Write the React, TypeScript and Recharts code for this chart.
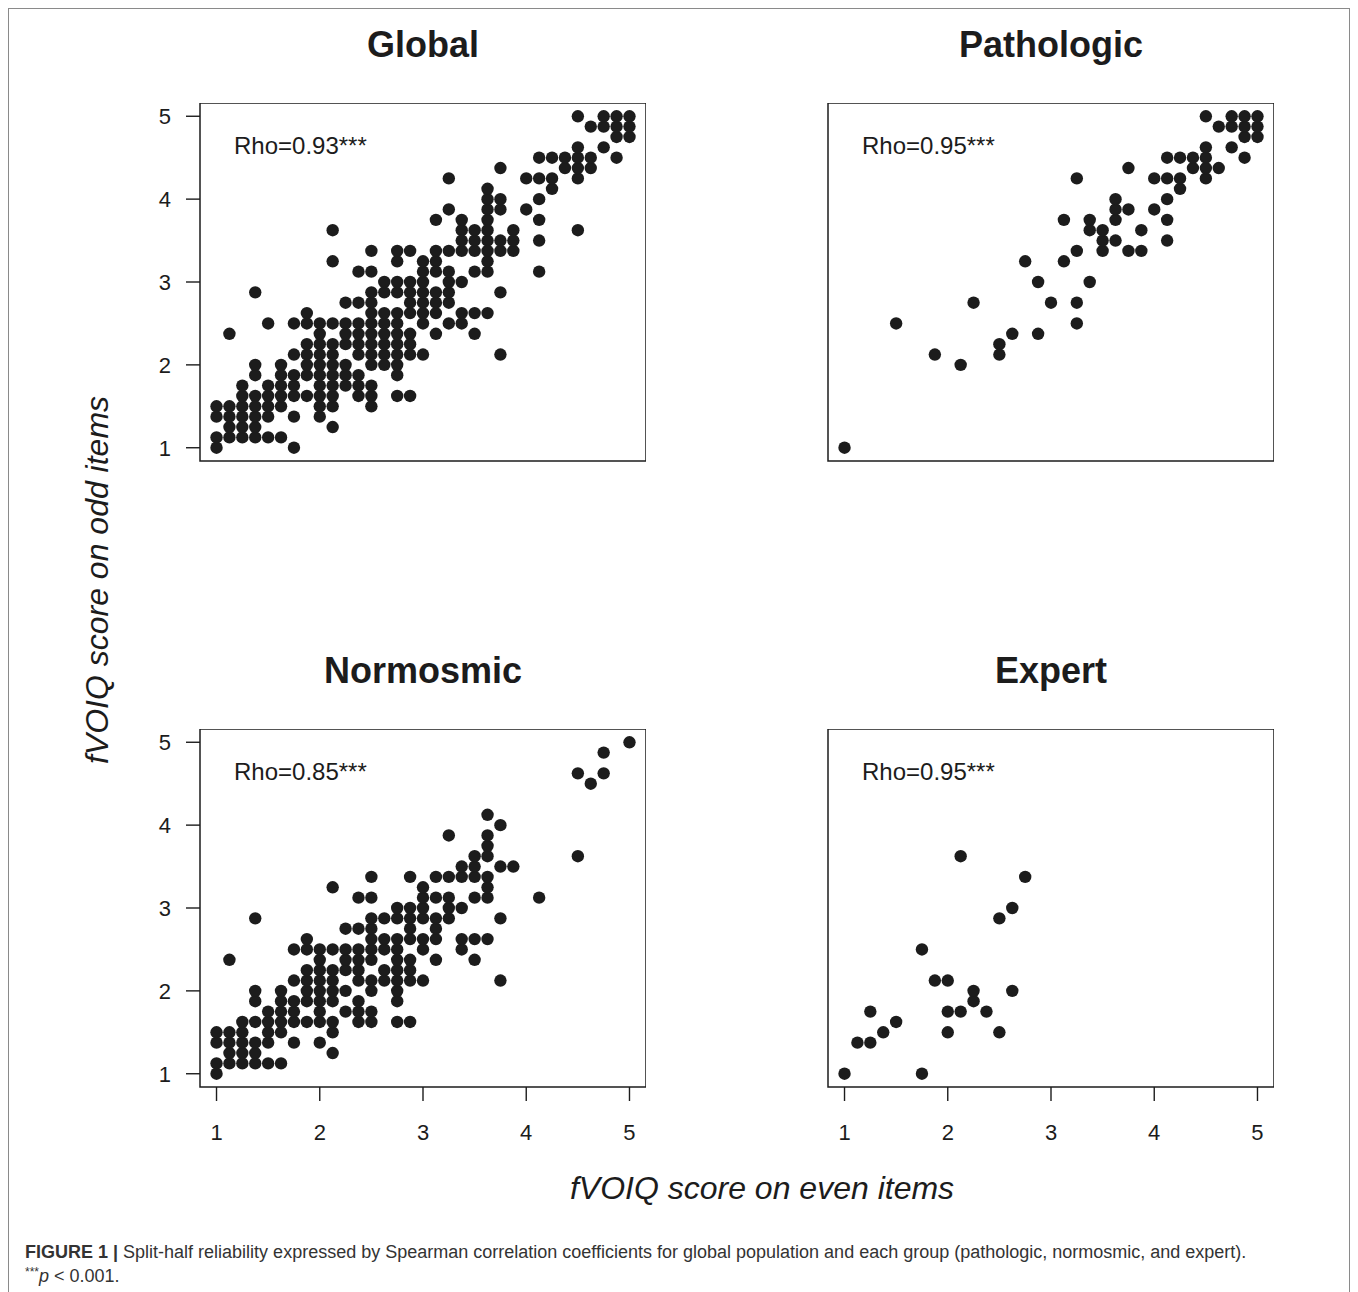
import React from 'react';
import { ScatterChart, Scatter, XAxis, YAxis, ReferenceArea } from 'recharts';

// ---------- data (x value -> list of y values), scores on a 1..5 scale in 1/8 steps ----------
type Col = [number, number[]];

const normosmicCols: Col[] = [
  [1, [1, 1.125, 1.375, 1.5]],
  [1.125, [1.125, 1.25, 1.375, 1.5, 2.375]],
  [1.25, [1.125, 1.25, 1.375, 1.5, 1.625]],
  [1.375, [1.125, 1.25, 1.375, 1.625, 1.875, 2, 2.875]],
  [1.5, [1.125, 1.375, 1.5, 1.625, 1.75]],
  [1.625, [1.125, 1.5, 1.625, 1.75, 1.875, 2]],
  [1.75, [1.375, 1.625, 1.75, 1.875, 2.125, 2.5]],
  [1.875, [1.625, 1.875, 2, 2.125, 2.25, 2.5, 2.625]],
  [2, [1.375, 1.625, 1.75, 1.875, 2, 2.125, 2.25, 2.375, 2.5]],
  [2.125, [1.25, 1.5, 1.625, 1.875, 2, 2.125, 2.25, 2.5, 3.25]],
  [2.25, [1.75, 2, 2.25, 2.375, 2.5, 2.75]],
  [2.375, [1.625, 1.75, 1.875, 2.125, 2.25, 2.375, 2.5, 2.75, 3.125]],
  [2.5, [1.625, 1.75, 2, 2.125, 2.375, 2.5, 2.625, 2.75, 2.875, 3.125, 3.375]],
  [2.625, [2.125, 2.25, 2.5, 2.625, 2.875]],
  [2.75, [1.625, 1.875, 2, 2.125, 2.25, 2.375, 2.5, 2.625, 2.875, 3]],
  [2.875, [1.625, 2.125, 2.25, 2.375, 2.625, 2.75, 2.875, 3, 3.375]],
  [3, [2.125, 2.5, 2.625, 2.875, 3, 3.125, 3.25]],
  [3.125, [2.375, 2.625, 2.75, 2.875, 3.125, 3.375]],
  [3.25, [2.875, 3, 3.125, 3.375, 3.875]],
  [3.375, [2.5, 2.625, 3, 3.375, 3.5]],
  [3.5, [2.375, 2.625, 3.125, 3.375, 3.5, 3.625]],
  [3.625, [2.625, 3.125, 3.25, 3.375, 3.625, 3.75, 3.875, 4.125]],
  [3.75, [2.125, 2.875, 3.5, 4]],
  [3.875, [3.5]],
  [4.125, [3.125]],
  [4.5, [3.625, 4.625]],
  [4.625, [4.5]],
  [4.75, [4.625, 4.875]],
  [5, [5]],
];

const pathologicCols: Col[] = [
  [1, [1]],
  [1.5, [2.5]],
  [1.875, [2.125]],
  [2.125, [2]],
  [2.25, [2.75]],
  [2.5, [2.125, 2.25]],
  [2.625, [2.375]],
  [2.75, [3.25]],
  [2.875, [2.375, 3]],
  [3, [2.75]],
  [3.125, [3.25, 3.75]],
  [3.25, [2.5, 2.75, 3.375, 4.25]],
  [3.375, [3, 3.625, 3.75]],
  [3.5, [3.375, 3.5, 3.625]],
  [3.625, [3.5, 3.75, 3.875, 4]],
  [3.75, [3.375, 3.875, 4.375]],
  [3.875, [3.375, 3.625]],
  [4, [3.875, 4.25]],
  [4.125, [3.5, 3.75, 4, 4.25, 4.5]],
  [4.25, [4.125, 4.25, 4.5]],
  [4.375, [4.375, 4.5]],
  [4.5, [4.25, 4.375, 4.5, 4.625, 5]],
  [4.625, [4.375, 4.875]],
  [4.75, [4.625, 4.875, 5]],
  [4.875, [4.5, 4.75, 4.875, 5]],
  [5, [4.75, 4.875, 5]],
];

const expertCols: Col[] = [
  [1, [1]],
  [1.125, [1.375]],
  [1.25, [1.375, 1.75]],
  [1.375, [1.5]],
  [1.5, [1.625]],
  [1.75, [1, 2.5]],
  [1.875, [2.125]],
  [2, [1.5, 1.75, 2.125]],
  [2.125, [1.75, 3.625]],
  [2.25, [1.875, 2]],
  [2.375, [1.75]],
  [2.5, [1.5, 2.875]],
  [2.625, [2, 3]],
  [2.75, [3.375]],
];

const panelTitles = ['Global', 'Pathologic', 'Normosmic', 'Expert'];
const rhoLabels = ['Rho=0.93***', 'Rho=0.95***', 'Rho=0.85***', 'Rho=0.95***'];
const axisTicks = [1, 2, 3, 4, 5];
const axisDomain: [number, number] = [0.84, 5.16];

// ---------- helpers ----------
type Pt = { x: number; y: number };
const toPoints = (cols: Col[]): Pt[] => cols.flatMap(([x, ys]) => ys.map((y) => ({ x, y })));

const normosmic = toPoints(normosmicCols);
const pathologic = toPoints(pathologicCols);
const expert = toPoints(expertCols);
// Global population = all participants of the three groups (identical points overlap)
const globalPts: Pt[] = (() => {
  const seen = new Set<string>();
  const out: Pt[] = [];
  [...pathologic, ...normosmic, ...expert].forEach((p) => {
    const k = `${p.x}_${p.y}`;
    if (!seen.has(k)) {
      seen.add(k);
      out.push(p);
    }
  });
  return out;
})();

const FONT = '"Liberation Sans", Arial, Helvetica, sans-serif';
const INK = '#1c1c1c';

const BW = 446; // plot box width
const BH = 358; // plot box height
const YW = 70; // y axis area width
const XH = 60; // x axis area height

const Dot = (props: any) => <circle cx={props.cx} cy={props.cy} r={6.2} fill={INK} />;

function Panel({ left, top, data, showX, showY }: { left: number; top: number; data: Pt[]; showX: boolean; showY: boolean }) {
  const tickStyle = { fontSize: 22, fill: INK, fontFamily: FONT };
  return (
    <div style={{ position: 'absolute', left: left - YW, top, width: YW + BW, height: BH + XH }}>
      <ScatterChart width={YW + BW} height={BH + XH} margin={{ top: 0, right: 0, bottom: 0, left: 0 }}>
        <XAxis
          type="number"
          dataKey="x"
          domain={axisDomain}
          ticks={axisTicks}
          allowDataOverflow
          interval={0}
          axisLine={false}
          tickLine={{ stroke: INK, strokeWidth: 1.4 }}
          tickSize={14}
          tickMargin={23}
          height={XH}
          tick={showX ? tickStyle : false}
        />
        <YAxis
          type="number"
          dataKey="y"
          domain={axisDomain}
          ticks={axisTicks}
          allowDataOverflow
          interval={0}
          axisLine={false}
          tickLine={{ stroke: INK, strokeWidth: 1.4 }}
          tickSize={14}
          tickMargin={15}
          width={YW}
          tick={showY ? tickStyle : false}
        />
        <ReferenceArea
          x1={axisDomain[0]}
          x2={axisDomain[1]}
          y1={axisDomain[0]}
          y2={axisDomain[1]}
          fill="none"
          fillOpacity={0}
          stroke={INK}
          strokeWidth={1.5}
          strokeOpacity={1}
          ifOverflow="visible"
        />
        <Scatter data={data} isAnimationActive={false} shape={Dot} />
      </ScatterChart>
    </div>
  );
}

const panels = [
  { left: 200, top: 103, data: globalPts, showX: false, showY: true },
  { left: 828, top: 103, data: pathologic, showX: false, showY: false },
  { left: 200, top: 729, data: normosmic, showX: true, showY: true },
  { left: 828, top: 729, data: expert, showX: true, showY: false },
];

export default function App() {
  return (
    <div style={{ position: 'absolute', left: 0, top: 0, width: 1358, height: 1292, background: '#fff', overflow: 'hidden' }}>
      {panels.map((p, i) => (
        <Panel key={i} {...p} />
      ))}
      <svg width={1358} height={1292} style={{ position: 'absolute', left: 0, top: 0, pointerEvents: 'none' }}>
        <rect x={8.5} y={8.5} width={1341} height={1300} fill="none" stroke="#8a8a8a" strokeWidth={1} />
        {panels.map((p, i) => (
          <g key={i}>
            <text
              x={p.left + BW / 2}
              y={p.top - 46}
              textAnchor="middle"
              fontFamily={FONT}
              fontWeight="bold"
              fontSize={36}
              fill={INK}
            >
              {panelTitles[i]}
            </text>
            <text x={p.left + 34} y={p.top + 51} fontFamily={FONT} fontSize={24} fill={INK}>
              {rhoLabels[i]}
            </text>
          </g>
        ))}
        <text
          transform="translate(97,580) rotate(-90)"
          y={11}
          textAnchor="middle"
          fontFamily={FONT}
          fontStyle="italic"
          fontSize={32}
          fill={INK}
        >
          fVOIQ score on odd items
        </text>
        <text x={762} y={1199} textAnchor="middle" fontFamily={FONT} fontStyle="italic" fontSize={32} fill={INK}>
          fVOIQ score on even items
        </text>
        <text x={25} y={1258} fontFamily={FONT} fontSize={18} fill="#333">
          <tspan fontWeight="bold">{'FIGURE 1 | '}</tspan>
          {'Split-half reliability expressed by Spearman correlation coefficients for global population and each group (pathologic, normosmic, and expert).'}
        </text>
        <text x={25} y={1282} fontFamily={FONT} fontSize={18} fill="#333">
          <tspan fontSize={12} dy={-6}>***</tspan>
          <tspan fontStyle="italic" dy={6}>p</tspan>
          {' < 0.001.'}
        </text>
      </svg>
    </div>
  );
}
